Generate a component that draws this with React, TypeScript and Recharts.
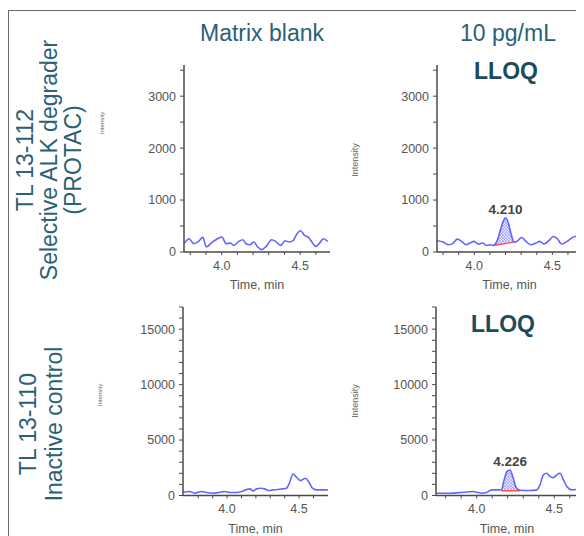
import React from "react";
import { ComposedChart, Line, Area, XAxis, YAxis, ReferenceDot } from "recharts";

// chromatograms: retention time (min) / intensity (cps)
const protacBlankTime = [3.763, 3.793, 3.821, 3.853, 3.88, 3.902, 3.938, 3.974, 4.002, 4.028, 4.056, 4.077, 4.109, 4.135, 4.156, 4.179, 4.205, 4.226, 4.254, 4.284, 4.318, 4.344, 4.376, 4.404, 4.429, 4.455, 4.476, 4.502, 4.528, 4.553, 4.579, 4.6, 4.632, 4.647, 4.675];
const protacBlankIntensity = [173, 256, 160, 205, 282, 96, 186, 256, 288, 160, 173, 128, 205, 237, 154, 141, 192, 109, 45, 109, 237, 205, 128, 218, 192, 218, 333, 410, 320, 282, 173, 109, 205, 256, 205];

const protacLloqTime = [3.763, 3.801, 3.833, 3.865, 3.891, 3.919, 3.947, 3.972, 3.998, 4.026, 4.054, 4.079, 4.105, 4.12, 4.147, 4.169, 4.185, 4.2, 4.218, 4.236, 4.255, 4.272, 4.304, 4.331, 4.362, 4.394, 4.421, 4.447, 4.479, 4.506, 4.532, 4.56, 4.588, 4.618, 4.645, 4.673, 4.69];
const protacLloqIntensity = [217, 191, 140, 172, 248, 204, 140, 172, 204, 153, 172, 127, 140, 125, 223, 446, 590, 660, 560, 340, 190, 204, 280, 204, 140, 172, 204, 153, 223, 299, 255, 153, 191, 255, 299, 299, 290];
const protacBaseTime = [4.12, 4.255];
const protacBaseIntensity = [125, 190];

const controlBlankTime = [3.695, 3.741, 3.776, 3.822, 3.857, 3.903, 3.949, 3.984, 4.019, 4.065, 4.1, 4.13, 4.158, 4.181, 4.204, 4.232, 4.262, 4.285, 4.319, 4.354, 4.385, 4.413, 4.435, 4.458, 4.482, 4.51, 4.544, 4.569, 4.593, 4.621, 4.656, 4.7];
const controlBlankIntensity = [299, 359, 209, 359, 269, 209, 299, 359, 269, 269, 359, 508, 598, 419, 598, 658, 598, 449, 508, 538, 598, 658, 1196, 1943, 1644, 1345, 1555, 1196, 658, 508, 508, 508];

const controlLloqTime = [3.742, 3.828, 3.914, 3.978, 4.0, 4.032, 4.065, 4.097, 4.13, 4.16, 4.175, 4.195, 4.215, 4.235, 4.255, 4.28, 4.344, 4.387, 4.408, 4.43, 4.452, 4.473, 4.494, 4.516, 4.537, 4.559, 4.581, 4.613, 4.65];
const controlLloqIntensity = [209, 209, 299, 359, 299, 209, 269, 508, 508, 520, 1300, 2150, 2300, 1600, 700, 480, 449, 508, 957, 1854, 2003, 1704, 1615, 1854, 2003, 1405, 807, 508, 568];
const controlBaseTime = [4.16, 4.28];
const controlBaseIntensity = [430, 430];

const peakLabels = ["4.210", "4.226"];

const timeTicks = [3.8, 3.9, 4.0, 4.1, 4.2, 4.3, 4.4, 4.5, 4.6];
const timeLabels = [4.0, 4.5];
const smallTicks = [0, 500, 1000, 1500, 2000, 2500, 3000, 3500];
const smallLabels = [0, 1000, 2000, 3000];
const bigTicks = [0, 1000, 2000, 3000, 4000, 5000, 6000, 7000, 8000, 9000, 10000, 11000, 12000, 13000, 14000, 15000, 16000, 17000];
const bigLabels = [0, 5000, 10000, 15000];

const FONT = '"Liberation Sans", Arial, sans-serif';
const TEAL = "#2b6177";
const AXIS = "#4a4a4a";
const TRACE = "#6464ff";

const rows = (t: number[], v: number[]) => t.map((x, i) => ({ t: x, v: v[i] }));

type PanelProps = {
    id: string;
    left: number;
    top: number;
    width: number;
    height: number;
    right: number;
    xDomain: [number, number];
    yMax: number;
    yTicks: number[];
    yLabels: number[];
    time: number[];
    intensity: number[];
    baseTime?: number[];
    baseIntensity?: number[];
    peakLabel?: string;
};

function Panel(p: PanelProps) {
    const trace = rows(p.time, p.intensity);
    const base = p.baseTime ? rows(p.baseTime, p.baseIntensity!) : null;
    const peak = base ? trace.filter((d) => d.t >= base[0].t && d.t <= base[1].t) : [];
    const apex = peak.length ? peak.reduce((a, b) => (b.v > a.v ? b : a)) : null;
    const floor = p.yMax / 90;
    const tick = { fill: "#555", fontSize: 12.5, fontFamily: FONT };

    return (
        <div style={{ position: "absolute", left: p.left, top: p.top }}>
            <ComposedChart width={p.width} height={p.height} margin={{ top: 10, right: p.right, left: 0, bottom: 0 }}>
                <defs>
                    <pattern id={`hatch-${p.id}`} width="3" height="3" patternUnits="userSpaceOnUse">
                        <rect width="3" height="3" fill="#e4e4ff" />
                        <path d="M0,0 L3,3 M3,0 L0,3" stroke="#8585ff" strokeWidth={0.5} />
                    </pattern>
                </defs>
                <XAxis
                    type="number"
                    dataKey="t"
                    domain={p.xDomain}
                    allowDataOverflow
                    ticks={timeTicks}
                    interval={0}
                    height={40}
                    tickSize={3}
                    tickMargin={6}
                    tick={tick}
                    tickFormatter={(v: number) => (timeLabels.some((l) => Math.abs(l - v) < 1e-6) ? v.toFixed(1) : "")}
                    axisLine={{ stroke: AXIS, strokeWidth: 1.5 }}
                    tickLine={{ stroke: AXIS }}
                    label={{ value: "Time, min", position: "insideBottom", offset: 3, fill: "#555", fontSize: 12.5, fontFamily: FONT }}
                />
                <YAxis
                    type="number"
                    domain={[0, p.yMax]}
                    allowDataOverflow
                    ticks={p.yTicks}
                    interval={0}
                    width={54}
                    tickSize={4}
                    tickMargin={4}
                    tick={tick}
                    tickFormatter={(v: number) => (p.yLabels.includes(v) ? String(v) : "")}
                    axisLine={{ stroke: AXIS, strokeWidth: 1.5 }}
                    tickLine={{ stroke: AXIS }}
                />
                {base && (
                    <Area data={peak} dataKey="v" type="monotone" baseValue={floor} fill={`url(#hatch-${p.id})`} fillOpacity={1} stroke="none" isAnimationActive={false} />
                )}
                {base && (
                    <Area data={base} dataKey="v" type="linear" baseValue={floor} fill="#ffffff" fillOpacity={1} stroke="none" isAnimationActive={false} />
                )}
                {base && <Line data={base} dataKey="v" type="linear" stroke="#ff4d4d" strokeWidth={1.3} dot={false} isAnimationActive={false} />}
                <Line data={trace} dataKey="v" type="monotone" stroke={TRACE} strokeWidth={1.6} dot={false} isAnimationActive={false} />
                {apex && (
                    <ReferenceDot
                        x={apex.t}
                        y={apex.v}
                        r={0}
                        fill="none"
                        stroke="none"
                        label={{ value: p.peakLabel, position: "top", offset: 4, fill: "#444", fontSize: 13.5, fontWeight: 600, fontFamily: FONT }}
                    />
                )}
            </ComposedChart>
        </div>
    );
}

function Rotated({ x, y, w, lines, size, color, lh }: { x: number; y: number; w: number; lines: string[]; size: number; color: string; lh: number }) {
    const h = lines.length * lh;
    return (
        <div
            style={{
                position: "absolute",
                left: x - w / 2,
                top: y - h / 2,
                width: w,
                height: h,
                transform: "rotate(-90deg)",
                textAlign: "center",
                fontSize: size,
                lineHeight: `${lh}px`,
                color,
                whiteSpace: "nowrap",
            }}
        >
            {lines.map((l) => (
                <div key={l}>{l}</div>
            ))}
        </div>
    );
}

function Text({ x, y, text, size, color, bold }: { x: number; y: number; text: string; size: number; color: string; bold?: boolean }) {
    return (
        <div
            style={{
                position: "absolute",
                left: x - 100,
                top: y - size * 0.6,
                width: 200,
                textAlign: "center",
                fontSize: size,
                lineHeight: `${size * 1.2}px`,
                color,
                fontWeight: bold ? 700 : 400,
                whiteSpace: "nowrap",
            }}
        >
            {text}
        </div>
    );
}

export default function App() {
    // positions below are relative to the body's 8px margin
    return (
        <div style={{ position: "relative", width: 576, height: 528, fontFamily: FONT, overflow: "hidden" }}>
            <div style={{ position: "absolute", left: 0, top: 2, width: 576, borderTop: "1.5px solid #6b6b6b" }} />
            <div style={{ position: "absolute", left: 0, top: 2, height: 526, borderLeft: "1.5px solid #6b6b6b" }} />

            <Text x={254} y={26} text="Matrix blank" size={23} color={TEAL} />
            <Text x={500} y={26} text="10 pg/mL" size={23} color={TEAL} />
            <Text x={498} y={64} text="LLOQ" size={23} color="#1d4a5c" bold />
            <Text x={495} y={317} text="LLOQ" size={23} color="#1d4a5c" bold />

            <Rotated x={41} y={152} w={300} lh={24} size={23} color={TEAL} lines={["TL 13-112", "Selective ALK degrader", "(PROTAC)"]} />
            <Rotated x={33} y={416} w={240} lh={26} size={23} color={TEAL} lines={["TL 13-110", "Inactive control"]} />

            <Rotated x={94} y={115} w={60} lh={8} size={6} color="#666" lines={["Intensity"]} />
            <Rotated x={347} y={152} w={60} lh={10} size={9} color="#666" lines={["Intensity"]} />
            <Rotated x={92} y={387} w={60} lh={8} size={6} color="#666" lines={["Intensity"]} />
            <Rotated x={347} y={393} w={60} lh={10} size={9} color="#666" lines={["Intensity"]} />

            <Panel id="tl" left={122} top={47} width={205} height={237} right={5} xDomain={[3.76, 4.69]} yMax={3600} yTicks={smallTicks} yLabels={smallLabels} time={protacBlankTime} intensity={protacBlankIntensity} />
            <Panel
                id="tr"
                left={375}
                top={47}
                width={201}
                height={237}
                right={2}
                xDomain={[3.761, 4.69]}
                yMax={3600}
                yTicks={smallTicks}
                yLabels={smallLabels}
                time={protacLloqTime}
                intensity={protacLloqIntensity}
                baseTime={protacBaseTime}
                baseIntensity={protacBaseIntensity}
                peakLabel={peakLabels[0]}
            />
            <Panel id="bl" left={121} top={288.5} width={204} height={238.5} right={5} xDomain={[3.694, 4.701]} yMax={17000} yTicks={bigTicks} yLabels={bigLabels} time={controlBlankTime} intensity={controlBlankIntensity} />
            <Panel
                id="br"
                left={374}
                top={288.5}
                width={200}
                height={238.5}
                right={4}
                xDomain={[3.738, 4.653]}
                yMax={17000}
                yTicks={bigTicks}
                yLabels={bigLabels}
                time={controlLloqTime}
                intensity={controlLloqIntensity}
                baseTime={controlBaseTime}
                baseIntensity={controlBaseIntensity}
                peakLabel={peakLabels[1]}
            />
        </div>
    );
}
